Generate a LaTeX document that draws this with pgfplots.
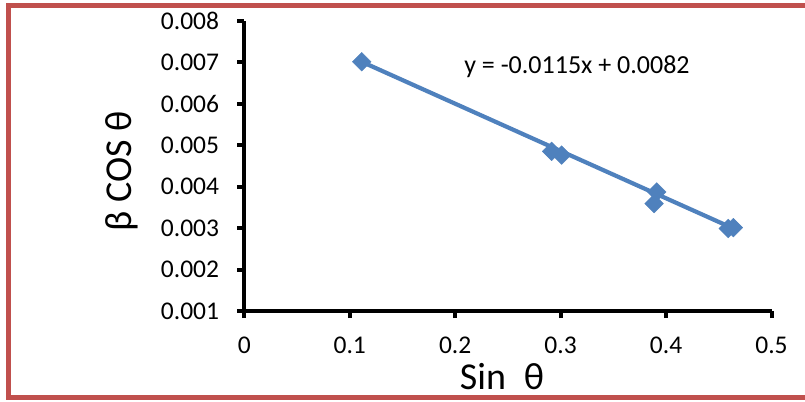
\documentclass[border=0pt]{standalone}
\usepackage{fontspec}
\setmainfont{Carlito}
\usepackage{pgfplots}
\pgfplotsset{compat=1.18}
\definecolor{XlBlue}{HTML}{4F81BD}
\definecolor{XlRed}{HTML}{C0504D}

\begin{document}
\begin{tikzpicture}
\clip (0,0) rectangle (805bp,402bp);
\fill[white] (0,0) rectangle (805bp,402bp);
\draw[XlRed,line width=4.5bp] (830bp,396.5bp) -- (8.5bp,396.5bp) -- (8.5bp,4.5bp) -- (830bp,4.5bp);
\begin{axis}[
  at={(244.3bp,91bp)},anchor=south west,
  scale only axis,width=527.2bp,height=290.3bp,
  xmin=0,xmax=0.5,ymin=0.001,ymax=0.008,
  scaled x ticks=false,scaled y ticks=false,
  axis lines=left,axis line style={-,line width=4bp,black},
  tick align=outside,major tick length=7bp,
  tick style={line width=4bp,black},
  xtick={0,0.1,0.2,0.3,0.4,0.5},
  xticklabels={0,0.1,0.2,0.3,0.4,0.5},
  ytick={0.001,0.002,0.003,0.004,0.005,0.006,0.007,0.008},
  yticklabels={0.001,0.002,0.003,0.004,0.005,0.006,0.007,0.008},
  xticklabel style={font=\fontsize{25.5bp}{30bp}\selectfont,inner sep=0pt,anchor=north,yshift=-19bp},
  yticklabel style={font=\fontsize{25.5bp}{30bp}\selectfont,inner sep=0pt,anchor=east,xshift=-18bp},
  xlabel={Sin\hspace{18bp}θ},
  ylabel={β COS θ},
  xlabel style={font=\fontsize{38bp}{44bp}\selectfont,at={(axis description cs:0.489,-0.227)},anchor=center},
  ylabel style={font=\fontsize{38bp}{44bp}\selectfont,at={(axis description cs:-0.232,0.482)},anchor=center,rotate=0},
  clip=false]
\addplot[XlBlue,line width=4.2bp] coordinates {(0.1113,0.00701) (0.4612,0.00302)};
\addplot[only marks,mark=square*,mark size=6.6bp,mark options={rotate=45,XlBlue,fill=XlBlue}] coordinates {
  (0.1113,0.00701)
  (0.2915,0.00485)
  (0.3010,0.00476)
  (0.3886,0.00359)
  (0.3911,0.00387)
  (0.4590,0.00299)
  (0.4638,0.00301)};
\node[font=\fontsize{26bp}{30bp}\selectfont,inner sep=0pt] at (axis cs:0.3155,0.00689) {y = -0.0115x + 0.0082};
\end{axis}
\end{tikzpicture}
\end{document}
